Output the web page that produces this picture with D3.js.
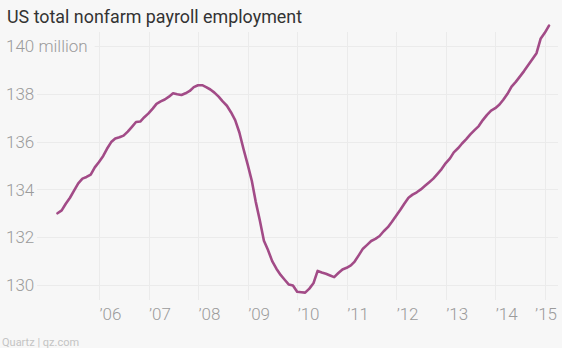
<!DOCTYPE html>
<html>
<head>
<meta charset="utf-8">
<script src="https://cdn.jsdelivr.net/npm/d3@7"></script>
<style>
  html, body { margin: 0; padding: 0; background: #ffffff; }
  svg { display: block; }
</style>
</head>
<body>
<svg id="chart" width="571" height="355"></svg>
<script>
const titleText = "US total nonfarm payroll employment";
const sourceText = "Quartz | qz.com";

// Monthly observations, Mar 2005 – Feb 2015 (millions)
const startMonth = "2005-03";
const employment = [
  // 2005 (Mar–Dec)
  133.00, 133.12, 133.40, 133.65, 133.95, 134.25, 134.45, 134.52, 134.62, 134.92,
  // 2006
  135.15, 135.40, 135.70, 135.98, 136.13, 136.18, 136.25, 136.42, 136.62, 136.82, 136.84, 137.02,
  // 2007
  137.18, 137.38, 137.58, 137.68, 137.76, 137.88, 138.02, 137.98, 137.95, 138.02, 138.12, 138.28,
  // 2008
  138.36, 138.36, 138.28, 138.18, 138.05, 137.88, 137.68, 137.50, 137.22, 136.90, 136.38, 135.70,
  // 2009
  135.05, 134.35, 133.50, 132.70, 131.85, 131.45, 131.00, 130.68, 130.42, 130.22, 130.02, 129.98,
  // 2010
  129.72, 129.70, 129.68, 129.85, 130.07, 130.59, 130.52, 130.47, 130.40, 130.33, 130.50, 130.65,
  // 2011
  130.72, 130.82, 130.98, 131.25, 131.52, 131.68, 131.84, 131.93, 132.05, 132.25, 132.42, 132.65,
  // 2012
  132.90, 133.15, 133.40, 133.65, 133.78, 133.88, 134.00, 134.15, 134.30, 134.45, 134.65, 134.85,
  // 2013
  135.10, 135.30, 135.55, 135.72, 135.92, 136.10, 136.30, 136.48, 136.65, 136.90, 137.12, 137.30,
  // 2014
  137.40, 137.55, 137.75, 138.00, 138.30, 138.50, 138.72, 138.95, 139.20, 139.45, 139.70, 140.30,
  // 2015 (Jan–Feb)
  140.55, 140.85
];

const yTicks = [130, 132, 134, 136, 138, 140];
const xTickYears = [2006, 2007, 2008, 2009, 2010, 2011, 2012, 2013, 2014, 2015];
const xTickLabels = ["\u201906", "\u201907", "\u201908", "\u201909", "\u201910", "\u201911", "\u201912", "\u201913", "\u201914", "\u201915"];

const parseMonth = d3.timeParse("%Y-%m");
const start = parseMonth(startMonth);
const dates = employment.map((_, i) => d3.timeMonth.offset(start, i));
const data = dates.map((d, i) => ({ date: d, value: employment[i] }));

const svg = d3.select("#chart");

svg.append("rect").attr("x", 0).attr("y", 0).attr("width", 562).attr("height", 348).attr("fill", "#f7f7f7");

const x = d3.scaleTime().domain(d3.extent(dates)).range([57.5, 549]);
const y = d3.scaleLinear().domain([130, 140]).range([285, 46]);

const font = "Roboto, 'Open Sans', sans-serif";
const gridColor = "#ebebeb";
const labelColor = "#9b9b9b";

// Title
const title = svg.append("text")
  .attr("x", 7).attr("y", 23)
  .attr("font-family", font).attr("font-size", 19)
  .attr("fill", "#333333")
  .text(titleText);
const tw = title.node().getComputedTextLength();
if (tw > 295) title.attr("textLength", 295).attr("lengthAdjust", "spacingAndGlyphs");

// Vertical gridlines
const xTickDates = xTickYears.map(yr => new Date(yr, 0, 1));
const gridG = svg.append("g");
gridG.selectAll("line.v").data(xTickDates).join("line").attr("class", "v")
  .attr("x1", d => Math.round(x(d)) + 0.5).attr("x2", d => Math.round(x(d)) + 0.5)
  .attr("y1", 32).attr("y2", 300)
  .attr("stroke", gridColor).attr("stroke-width", 1);

// Y labels
const yl = svg.append("g").selectAll("text").data(yTicks).join("text")
  .attr("x", 6).attr("y", d => y(d))
  .attr("dy", "0.36em")
  .attr("font-family", font).attr("font-size", 17).attr("font-weight", 300)
  .attr("fill", labelColor)
  .text(d => d === 140 ? "140 million" : d);

const labelW = {};
yl.each(function(d) { labelW[d] = this.getComputedTextLength(); });

// Horizontal gridlines
gridG.selectAll("line.h").data(yTicks).join("line").attr("class", "h")
  .attr("x1", d => d === 140 ? 6 + labelW[d] + 7 : 37)
  .attr("x2", 558)
  .attr("y1", d => Math.round(y(d)) + 0.5).attr("y2", d => Math.round(y(d)) + 0.5)
  .attr("stroke", gridColor).attr("stroke-width", 1);

// X labels
svg.append("g").selectAll("text").data(xTickDates).join("text")
  .attr("x", (d, i) => i === xTickDates.length - 1 ? 557 : x(d) + 0.5)
  .attr("text-anchor", (d, i) => i === xTickDates.length - 1 ? "end" : "start")
  .attr("y", 320)
  .attr("font-family", font).attr("font-size", 17).attr("font-weight", 300)
  .attr("fill", labelColor)
  .text((d, i) => xTickLabels[i]);

// Line
const line = d3.line().x(d => x(d.date)).y(d => y(d.value)).curve(d3.curveLinear);
svg.append("path").datum(data)
  .attr("d", line)
  .attr("fill", "none")
  .attr("stroke", "#a24b87")
  .attr("stroke-width", 2.6)
  .attr("stroke-linejoin", "round")
  .attr("stroke-linecap", "round");

// Source
svg.append("text")
  .attr("x", 2).attr("y", 346)
  .attr("font-family", font).attr("font-size", 11)
  .attr("fill", "#c4c4c4")
  .text(sourceText);
</script>
</body>
</html>
